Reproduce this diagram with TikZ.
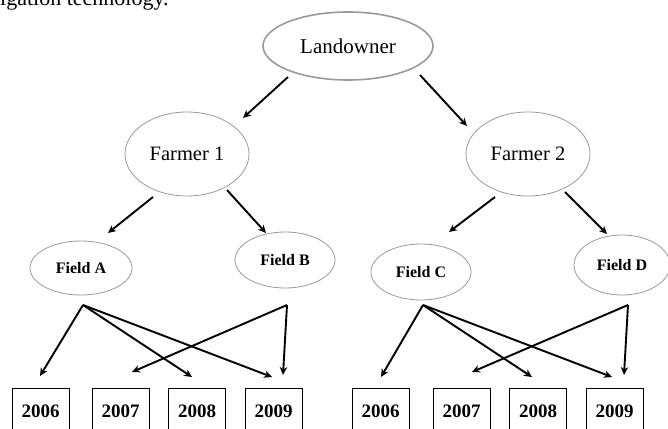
\documentclass[tikz,border=0pt]{standalone}
\usepackage{fontspec}
\setmainfont{Liberation Serif}
\usetikzlibrary{shapes.geometric,arrows.meta}

\begin{document}
\begin{tikzpicture}[x=1pt,y=-1pt,
  oval/.style={ellipse, draw=black!40, line width=0.8pt, inner sep=0pt},
  fieldtext/.style={font=\fontsize{16}{18}\selectfont\bfseries},
  yearbox/.style={rectangle, draw=black, line width=0.8pt, anchor=north,
    minimum width=57pt, minimum height=46pt, inner sep=0pt,
    font=\fontsize{19}{21}\selectfont\bfseries},
  link/.style={line width=1.9pt, -{Stealth[length=8pt,width=7.5pt]}}]
\useasboundingbox (0,0) rectangle (668,428);
\clip (0,0) rectangle (668,428);

% running text above the chart
\node[anchor=base west, inner sep=0pt, font=\fontsize{22}{24}\selectfont] (caption) at (0,6) {igation technology.};

% owner and farmers
\node[oval, line width=1.6pt, minimum width=170pt, minimum height=68pt,
  font=\fontsize{21}{24}\selectfont] (L) at (348,46) {Landowner};
\node[oval, minimum width=124pt, minimum height=84pt,
  font=\fontsize{20.5}{23}\selectfont] (F1) at (187,154) {Farmer 1};
\node[oval, minimum width=124pt, minimum height=84pt,
  font=\fontsize{20.5}{23}\selectfont] (F2) at (528,154) {Farmer 2};

% fields
\node[oval, fieldtext, minimum width=102pt, minimum height=54pt] (FA) at (81,268) {Field A};
\node[oval, fieldtext, minimum width=100pt, minimum height=56pt] (FB) at (285,260) {Field B};
\node[oval, fieldtext, minimum width=100pt, minimum height=56pt] (FC) at (421,272) {Field C};
\node[oval, fieldtext, minimum width=96pt, minimum height=60pt] (FD) at (622,265) {Field D};

% years, left group
\node[yearbox] (A06) at (40.5,388) {2006};
\node[yearbox] (A07) at (120.5,388) {2007};
\node[yearbox] (A08) at (197,388) {2008};
\node[yearbox] (A09) at (273.5,388) {2009};
% years, right group
\node[yearbox] (B06) at (380.5,388) {2006};
\node[yearbox] (B07) at (461.5,388) {2007};
\node[yearbox] (B08) at (538,388) {2008};
\node[yearbox] (B09) at (614.5,388) {2009};

% connector ends
\coordinate (Lsw) at (288,77);
\coordinate (Lse) at (420,75);
\coordinate (F1in) at (243,118);
\coordinate (F2in) at (467,126);
\coordinate (F1sw) at (153,197);
\coordinate (F1se) at (227,190);
\coordinate (F2sw) at (495,197);
\coordinate (F2se) at (565,192);
\coordinate (FAin) at (108,233);
\coordinate (FBin) at (266,233);
\coordinate (FCin) at (449,232);
\coordinate (FDin) at (607,234);

\coordinate (FAout) at (83,305);
\coordinate (FBout) at (287,305);
\coordinate (FCout) at (423,305);
\coordinate (FDout) at (628,305);

\coordinate (A06in) at (40,376);
\coordinate (A07in) at (132,372);
\coordinate (A08in) at (192,377);
\coordinate (A09a) at (272,377);
\coordinate (A09b) at (283,375);
\coordinate (B06in) at (381,377);
\coordinate (B07in) at (472,372);
\coordinate (B08in) at (532,377);
\coordinate (B09a) at (612,377);
\coordinate (B09b) at (624,375);

% hierarchy
\draw[link] (Lsw) -- (F1in);
\draw[link] (Lse) -- (F2in);
\draw[link] (F1sw) -- (FAin);
\draw[link] (F1se) -- (FBin);
\draw[link] (F2sw) -- (FCin);
\draw[link] (F2se) -- (FDin);

% fields to years, left group
\draw[link] (FAout) -- (A06in);
\draw[link] (FAout) -- (A08in);
\draw[link] (FAout) -- (A09a);
\draw[link] (FBout) -- (A07in);
\draw[link] (FBout) -- (A09b);

% fields to years, right group
\draw[link] (FCout) -- (B06in);
\draw[link] (FCout) -- (B08in);
\draw[link] (FCout) -- (B09a);
\draw[link] (FDout) -- (B07in);
\draw[link] (FDout) -- (B09b);
\end{tikzpicture}
\end{document}
